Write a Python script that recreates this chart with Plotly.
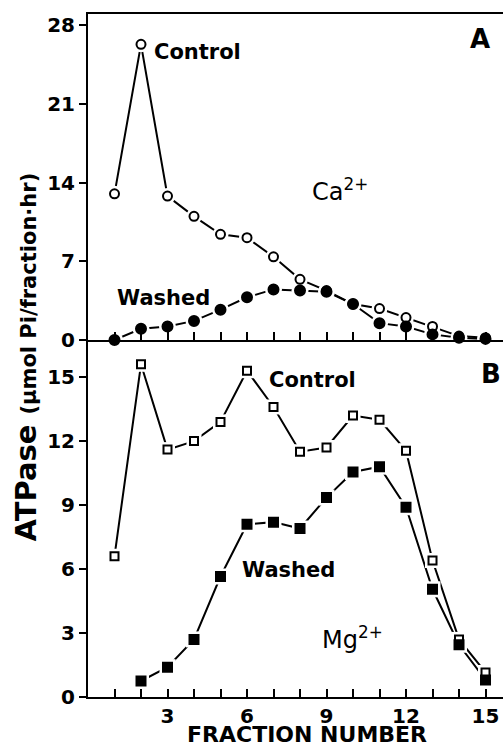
import plotly.graph_objects as go

# ---- data ----
fractions = list(range(1, 16))
ca_control = [13.0, 26.3, 12.8, 11.0, 9.4, 9.1, 7.4, 5.4, 4.4, 3.2, 2.8, 2.0, 1.2, 0.35, 0.2]
ca_washed = [0.0, 1.0, 1.2, 1.7, 2.7, 3.8, 4.5, 4.4, 4.3, 3.2, 1.5, 1.2, 0.5, 0.2, 0.1]
mg_control = [6.6, 15.6, 11.6, 12.0, 12.9, 15.3, 13.6, 11.5, 11.7, 13.2, 13.0, 11.55, 6.4, 2.7, 1.15]
mg_washed = [None, 0.75, 1.4, 2.7, 5.65, 8.1, 8.2, 7.9, 9.35, 10.55, 10.8, 8.9, 5.05, 2.45, 0.8]

ca_ticks = [0, 7, 14, 21, 28]
mg_ticks = [0, 3, 6, 9, 12, 15]
x_ticks = [3, 6, 9, 12, 15]

FONT = "DejaVu Sans"
BLACK = "black"

fig = go.Figure()

series = [
    # (y, xaxis, yaxis, symbol, size, filled)
    (ca_control, "x2", "y2", "circle", 9, False),
    (ca_washed, "x2", "y2", "circle", 10, True),
    (mg_control, "x", "y", "square", 8, False),
    (mg_washed, "x", "y", "square", 9, True),
]

# lines
for ys, xa, ya, sym, sz, filled in series:
    fig.add_trace(go.Scatter(x=fractions, y=ys, xaxis=xa, yaxis=ya, mode="lines",
                             line=dict(color=BLACK, width=2), connectgaps=False,
                             hoverinfo="skip", showlegend=False, cliponaxis=False))
# white halos (gaps around markers)
for ys, xa, ya, sym, sz, filled in series:
    fig.add_trace(go.Scatter(x=fractions, y=ys, xaxis=xa, yaxis=ya, mode="markers",
                             marker=dict(symbol=sym, size=sz + 7, color="white",
                                         line=dict(width=0)),
                             hoverinfo="skip", showlegend=False, cliponaxis=False))
# markers
for ys, xa, ya, sym, sz, filled in series:
    fig.add_trace(go.Scatter(x=fractions, y=ys, xaxis=xa, yaxis=ya, mode="markers",
                             marker=dict(symbol=sym, size=sz,
                                         color=BLACK if filled else "white",
                                         line=dict(color=BLACK, width=2)),
                             showlegend=False, cliponaxis=False))

split = 357 / 683
axis_common = dict(showline=True, linecolor=BLACK, linewidth=2, showgrid=False,
                   zeroline=False, automargin=False,
                   tickfont=dict(family=FONT, size=20, color=BLACK, weight="bold"))

fig.update_layout(
    width=503, height=753,
    margin=dict(l=88, r=0, t=14, b=56),
    plot_bgcolor="white", paper_bgcolor="white",
    font=dict(family=FONT, color=BLACK),
    xaxis=dict(domain=[0, 1], anchor="y", range=[0, 15.66], tickmode="array",
               tickvals=x_ticks, ticks="inside", ticklen=8, tickwidth=1.5, tickcolor=BLACK,
               minor=dict(tickmode="array", tickvals=fractions, ticks="inside", ticklen=8,
                          tickwidth=1.5, tickcolor=BLACK),
               **axis_common),
    xaxis2=dict(domain=[0, 1], anchor="y2", matches="x", range=[0, 15.66], tickmode="array",
                tickvals=fractions, ticks="inside", ticklen=8, tickwidth=1.5, tickcolor=BLACK,
                showticklabels=False, mirror=True, **axis_common),
    yaxis=dict(domain=[0, split], anchor="x", range=[0, 16.74], tickmode="array",
               tickvals=mg_ticks, ticks="outside", ticklen=7, tickwidth=1.5, tickcolor=BLACK,
               **axis_common),
    yaxis2=dict(domain=[split, 1], anchor="x2", range=[0, 29.0], tickmode="array",
                tickvals=ca_ticks, ticks="outside", ticklen=7, tickwidth=1.5, tickcolor=BLACK,
                **axis_common),
)

bold = dict(family=FONT, size=21, color=BLACK, weight="bold")
reg = dict(family=FONT, size=24, color=BLACK, weight="normal")
annos = [
    dict(text="Control", x=2.42, y=25.6, xref="x2", yref="y2", xanchor="left", font=bold),
    dict(text="Washed", x=1.02, y=3.75, xref="x2", yref="y2", xanchor="left", font=bold),
    dict(text="Ca<sup>2+</sup>", x=8.38, y=13.3, xref="x2", yref="y2", xanchor="left", font=reg),
    dict(text="A", x=14.8, y=26.8, xref="x2", yref="y2", xanchor="center",
         font=dict(family=FONT, size=26, color=BLACK, weight="bold")),
    dict(text="Control", x=6.75, y=14.86, xref="x", yref="y", xanchor="left", font=bold),
    dict(text="Washed", x=5.74, y=5.95, xref="x", yref="y", xanchor="left", font=bold),
    dict(text="Mg<sup>2+</sup>", x=8.75, y=2.77, xref="x", yref="y", xanchor="left", font=reg),
    dict(text="B", x=15.2, y=15.14, xref="x", yref="y", xanchor="center",
         font=dict(family=FONT, size=26, color=BLACK, weight="bold")),
    dict(text="FRACTION NUMBER", x=0.528, y=-0.0555, xref="paper", yref="paper",
         xanchor="center", yanchor="middle",
         font=dict(family=FONT, size=22, color=BLACK, weight="bold")),
    dict(text="ATPase <span style='font-size:21px'>(µmol Pi/fraction·hr)</span>",
         x=0, y=0.497, xref="paper", yref="paper", xshift=-62, textangle=-90,
         xanchor="center", yanchor="middle",
         font=dict(family=FONT, size=29, color=BLACK, weight="bold")),
]
for a in annos:
    a.setdefault("showarrow", False)
    a.setdefault("yanchor", "middle")
    fig.add_annotation(**a)

fig.write_html("out.html", config={"displayModeBar": False},
               post_script="document.body.style.margin='0';document.body.style.overflow='hidden';")
